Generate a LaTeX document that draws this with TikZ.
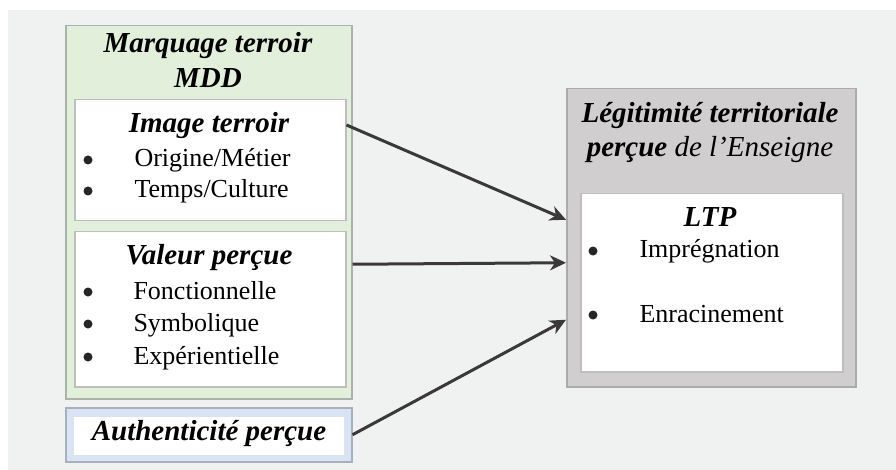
\documentclass[tikz,border=0pt]{standalone}
\usepackage{fontspec}
\setmainfont{Liberation Serif}
\usetikzlibrary{arrows.meta}
\definecolor{bgcol}{RGB}{240,242,241}
\definecolor{greenfill}{RGB}{226,239,218}
\definecolor{greenline}{RGB}{170,178,170}
\definecolor{bluefill}{RGB}{218,227,243}
\definecolor{blueline}{RGB}{168,176,190}
\definecolor{grayfill}{RGB}{208,206,206}
\definecolor{grayline}{RGB}{172,170,170}
\definecolor{whiteline}{RGB}{190,190,190}
\definecolor{arrowcol}{RGB}{58,56,56}
\tikzset{
  box/.style={draw, line width=1.5pt, inner sep=0pt, anchor=north west},
  ttl/.style={font=\fontsize{29}{35}\selectfont\bfseries\itshape, anchor=base},
  txt/.style={font=\fontsize{26}{32}\selectfont, anchor=base west},
  bul/.style={circle, fill=black!85, inner sep=0pt, minimum size=9pt},
  link/.style={-{Stealth[length=16pt,width=15pt,inset=5pt]}, line width=3pt, draw=arrowcol},
}
\begin{document}
\begin{tikzpicture}[x=1pt,y=-1pt]
\useasboundingbox (0,0) rectangle (896,470);
\fill[bgcol] (8,10) rectangle (896,470);
% left side
\node[box, draw=greenline, fill=greenfill, minimum width=286pt, minimum height=373pt] (mdd) at (65,25) {};
\node[box, draw=whiteline, fill=white, minimum width=271pt, minimum height=121pt] (img) at (74,99) {};
\node[box, draw=whiteline, fill=white, minimum width=271pt, minimum height=155pt] (val) at (74,231) {};
\node[box, draw=blueline, fill=bluefill, minimum width=286pt, minimum height=54pt] (auth) at (65,407) {};
\node[box, draw=none, fill=white, minimum width=270pt, minimum height=38pt] (authin) at (73,416) {};
\node[ttl] (mddtitle) at (208,53) {Marquage terroir};
\node[ttl] (mddsub) at (208,88) {MDD};
\node[ttl] (imgtitle) at (209,133) {Image terroir};
\node[bul] (imgb1) at (88,160) {};
\node[txt] (imgt1) at (131,167) {Origine/Métier};
\node[bul] (imgb2) at (88,191) {};
\node[txt] (imgt2) at (131,198) {Temps/Culture};
\node[ttl] (valtitle) at (209,265) {Valeur perçue};
\node[bul] (valb1) at (88,292) {};
\node[txt] (valt1) at (130,299) {Fonctionnelle};
\node[bul] (valb2) at (88,324) {};
\node[txt] (valt2) at (130,331) {Symbolique};
\node[bul] (valb3) at (88,357) {};
\node[txt] (valt3) at (130,364) {Expérientielle};
\node[ttl] (authtitle) at (209,440) {Authenticité perçue};
% right side
\node[box, draw=grayline, fill=grayfill, minimum width=289pt, minimum height=298pt] (ltp) at (566,88) {};
\node[box, draw=whiteline, fill=white, minimum width=262pt, minimum height=178pt] (ltpin) at (580,193) {};
\node[ttl] (ltptitle) at (710,123) {Légitimité territoriale};
\node[ttl, font=\fontsize{29}{35}\selectfont\itshape] (ltpsub) at (710,157) {\textbf{perçue} de l’Enseigne};
\node[ttl] (ltpname) at (710,227) {LTP};
\node[bul] (ltpb1) at (593,251) {};
\node[txt] (ltpt1) at (636,258) {Imprégnation};
\node[bul] (ltpb2) at (593,315) {};
\node[txt] (ltpt2) at (636,322) {Enracinement};
% links
\draw[link] ([yshift=-26pt]img.north east) -- ([yshift=18pt]ltp.west);
\draw[link] ([yshift=-52pt]mdd.east) -- ([yshift=-25pt]ltp.west);
\draw[link] (auth.east) -- ([yshift=-82pt]ltp.west);
\end{tikzpicture}
\end{document}
